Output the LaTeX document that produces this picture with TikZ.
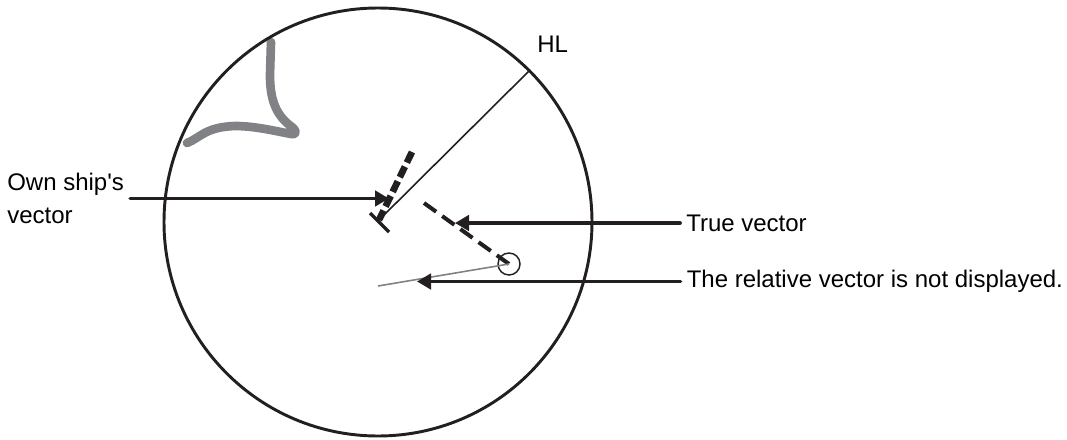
\documentclass[tikz,border=0pt]{standalone}
\usepackage{fontspec}
\setmainfont{Liberation Sans}
\usetikzlibrary{arrows.meta}
\definecolor{inkblack}{HTML}{231F20}
\definecolor{landgray}{HTML}{808285}

\begin{document}
\begin{tikzpicture}[
  x=0.75pt, y=-0.75pt,
  font=\fontsize{18}{24.75}\selectfont,
  label/.style={anchor=west, align=left, inner sep=4.5pt, text=black},
  arr/.style={-{Triangle[length=10.5pt,width=11.5pt]}, line width=2.8pt, line cap=round, color=inkblack},
  land/.style={line width=6.5pt, line cap=round, line join=round, color=landgray}
]
\useasboundingbox (0,0) rectangle (1067,439);

% land
\draw[land] (187,143) .. controls (200,138) and (205,127) .. (235,126)
  .. controls (255,126) and (275,131) .. (291,134)
  .. controls (298,135) and (296,130) .. (292,127)
  .. controls (275,115) and (270,98) .. (270,75)
  -- (271,42);

\node[draw=inkblack, line width=2.2pt, circle, inner sep=0pt, minimum size=428*0.75pt] (radar) at (378,222) {};
\node[draw=inkblack, line width=1.1pt, circle, inner sep=0pt, minimum size=22*0.75pt] (target) at (509,264) {};

\coordinate (ownship) at (379,220);
\coordinate (ownhead) at (412,152);
\coordinate (tick1) at (370,213);
\coordinate (tick2) at (389,232);
\coordinate (truehead) at (424,203);
\coordinate (relhead) at (378,286);
\coordinate (owntip) at (389,198.5);
\coordinate (truetip) at (455,223);
\coordinate (reltip) at (417,281.5);

% own ship, heading line
\draw[inkblack, line width=1.2pt] (ownship) -- (radar.45);
\draw[inkblack, line width=2.5pt] (tick1) -- (tick2);
\draw[inkblack, line width=5pt, dash pattern=on 8.8pt off 3.4pt] (ownhead) -- (ownship);

% vectors
\draw[inkblack, line width=3pt, dash pattern=on 11.2pt off 5.6pt] (truehead) -- (target.center);
\draw[landgray, line width=1.2pt] (target.center) -- (relhead);

\node[label] (own) at (1,198.5) {Own ship\textquotesingle s\\vector};
\node[label] (true) at (680,223) {True vector};
\node[label] (rel) at (680.5,281.5) {The relative vector is not displayed.};
\node[label] (hl) at (531,44) {HL};

\draw[arr] (own.east) -- (owntip);
\draw[arr] (true.west) -- (truetip);
\draw[arr] (rel.west) -- (reltip);

\end{tikzpicture}
\end{document}
